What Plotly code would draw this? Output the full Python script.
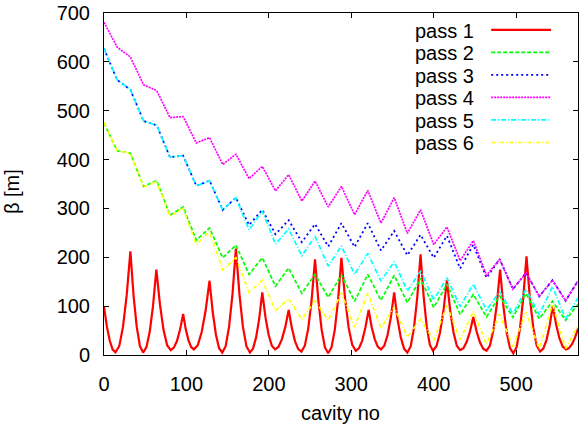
import plotly.graph_objects as go

# pass 1: beta along the linac, peaks at the quads, troughs between them
red_x = [0, 3.5, 7, 10.5, 14,
         18.5, 23, 27.5, 32,
         35.9, 39.75, 43.6, 47.5,
         51.5, 55.5, 59.5, 63.5,
         67.9, 72.25, 76.6, 81,
         84.75, 88.5, 92.25, 96,
         99.25, 102.5, 105.75, 109,
         113.75, 118.5, 123.25, 128,
         131.9, 135.75, 139.6, 143.5,
         147.6, 151.75, 155.9, 160,
         164.25, 168.5, 172.75, 177,
         180.75, 184.5, 188.25, 192,
         195.9, 199.75, 203.6, 207.5,
         211.6, 215.75, 219.9, 224,
         227.9, 231.75, 235.6, 239.5,
         243.6, 247.75, 251.9, 256,
         260, 264, 268, 272,
         276, 280, 284, 288,
         292.4, 296.75, 301.1, 305.5,
         309.4, 313.25, 317.1, 321,
         324.75, 328.5, 332.25, 336,
         340, 344, 348, 352,
         356, 360, 364, 368,
         372, 376, 380, 384,
         387.75, 391.5, 395.25, 399,
         403.25, 407.5, 411.75, 416,
         420, 424, 428, 432,
         436, 440, 444, 448,
         452, 456, 460, 464,
         468.1, 472.25, 476.4, 480.5,
         484.5, 488.5, 492.5, 496.5,
         500.5, 504.5, 508.5, 512.5,
         516.6, 520.75, 524.9, 529,
         532.9, 536.75, 540.6, 544.5,
         548.5, 552.5, 556.5, 560.5,
         564, 567.75, 571.4, 575]
red_y = [99, 58, 29, 11, 5.5,
         18, 57, 122, 212,
         121, 57, 18, 5,
         16, 48, 101, 175,
         103, 51, 20, 10,
         15, 28.5, 52, 84,
         52, 30, 16, 11.5,
         20, 47, 90.5, 152,
         88, 42, 14, 5,
         18, 58, 125, 218,
         125, 58, 18, 5,
         13, 36, 74, 128,
         77, 41, 19, 11.5,
         16.5, 32, 57, 92,
         55, 28, 12, 7,
         19, 54, 113, 196,
         112, 52, 15.5, 3.5,
         16, 52, 113.5, 199,
         116, 56, 21, 8.7,
         14, 29.5, 56, 92,
         57, 32, 16.5, 11.5,
         19, 41, 77, 128,
         74, 36, 13, 5,
         17.5, 55, 118, 206,
         120, 58, 21, 8.7,
         18, 45, 90, 153,
         90, 46, 19, 10,
         14, 27, 48, 78,
         48, 26, 13, 8.7,
         19, 50, 102, 175,
         100, 46, 14, 3.4,
         16, 53, 115, 202,
         117, 56, 19, 7,
         13, 30.5, 60, 101,
         62, 34, 17, 11.5,
         14, 22, 35.5, 54]

# passes 2-6 sampled at the quad / mid-cell positions
cav = [0, 16, 32, 48, 64, 80, 96, 112, 128, 144, 160, 176, 192, 208, 224, 240,
       256, 272, 288, 304, 320, 336, 352, 368, 384, 400, 416, 432, 448, 464,
       480, 496, 512, 528, 544, 560, 575]
pass2 = [475, 418, 413, 345, 357, 286, 303, 235, 260, 199, 225, 165, 199, 141,
         178, 126, 165, 118, 164, 110, 165, 112, 163, 107, 157, 97, 145, 83,
         124, 78, 121, 77, 126, 74, 110, 71, 104]
pass3 = [627, 563, 543, 479, 470, 405, 408, 346, 357, 297, 322, 266, 297, 247,
         276, 231, 268, 222, 270, 221, 270, 214, 254, 204, 246, 199, 244, 177,
         226, 158, 196, 135, 168, 120, 153, 111, 152]
pass4 = [681, 630, 610, 553, 541, 486, 488, 434, 445, 390, 411, 361, 386, 336,
         369, 315, 356, 303, 345, 287, 337, 270, 322, 249, 297, 226, 262, 193,
         234, 163, 196, 135, 168, 120, 153, 111, 152]
pass5 = [627, 563, 543, 479, 470, 405, 408, 346, 357, 297, 322, 256, 295, 227,
         258, 203, 243, 182, 223, 165, 208, 151, 191, 131, 172, 113, 158, 99,
         145, 92, 130, 84, 135, 82, 140, 74, 117]
pass6 = [475, 418, 413, 344, 355, 284, 300, 226, 253, 174, 199, 128, 153, 91,
         115, 73, 111, 71, 127, 57, 127, 55, 98, 37, 73, 30, 101, 32, 89, 22,
         84, 17, 88, 12, 104, 13, 60]

names = ["pass 1", "pass 2", "pass 3", "pass 4", "pass 5", "pass 6"]
colors = ["#ff0000", "#00ff00", "#0000ff", "#ff00ff", "#00ffff", "#ffff00"]
dashes = ["solid", "4px,2px", "2px,3px", "2px,1px", "5px,2px,1px,2px", "4px,2px,1px,2px"]
widths = [2.2, 1.7, 1.8, 1.7, 1.7, 1.7]

series = [(red_x, red_y), (cav, pass2), (cav, pass3), (cav, pass4), (cav, pass5), (cav, pass6)]

W, H = 581, 424
L, R, T, B = 104, 2, 9, 69
FONT = "Liberation Sans, Arial, sans-serif"

def px(x):  # pixel -> paper x
    return (x - L) / (W - L - R)

def py(y):  # pixel -> paper y
    return (H - B - y) / (H - T - B)

fig = go.Figure()
for (xs, ys), n, c, d, w in zip(series, names, colors, dashes, widths):
    fig.add_trace(go.Scatter(x=xs, y=ys, mode="lines", name=n,
                             line=dict(color=c, dash=d, width=w)))

# gnuplot style key: label on the left, line sample on the right
for i, (n, c, d, w) in enumerate(zip(names, colors, dashes, widths)):
    yy = 26 + 22.8 * i
    fig.add_annotation(x=px(477), y=py(yy + 1), xref="paper", yref="paper",
                       text=n, showarrow=False, xanchor="right", yanchor="middle",
                       font=dict(size=20, color="black", family=FONT))
    fig.add_shape(type="line", xref="paper", yref="paper",
                  x0=px(492), x1=px(552), y0=py(yy), y1=py(yy),
                  line=dict(color=c, dash=d, width=w))

fig.add_annotation(x=px(12), y=py(190), xref="paper", yref="paper", text="β [m]",
                   textangle=-90, showarrow=False, xanchor="center", yanchor="middle",
                   font=dict(size=20, color="black", family=FONT))
fig.add_annotation(x=px(341), y=py(414), xref="paper", yref="paper", text="cavity no",
                   showarrow=False, xanchor="center", yanchor="middle",
                   font=dict(size=20, color="black", family=FONT))

axis = dict(showline=True, linecolor="black", linewidth=1, mirror="ticks",
            ticks="inside", ticklen=5, tickcolor="black", showgrid=False,
            zeroline=False, ticklabeloverflow="allow",
            tickfont=dict(size=20, color="black", family=FONT))
fig.update_xaxes(range=[0, 575], tick0=0, dtick=100, ticklabelstandoff=11, **axis)
fig.update_yaxes(range=[0, 700], tick0=0, dtick=100, ticklabelstandoff=9, **axis)

fig.update_layout(width=W, height=H, margin=dict(l=L, r=R, t=T, b=B),
                  paper_bgcolor="white", plot_bgcolor="white", showlegend=False,
                  font=dict(family=FONT, color="black"))

fig.write_html("out.html", config={"displayModeBar": False},
               post_script="document.body.style.margin='0px';")
